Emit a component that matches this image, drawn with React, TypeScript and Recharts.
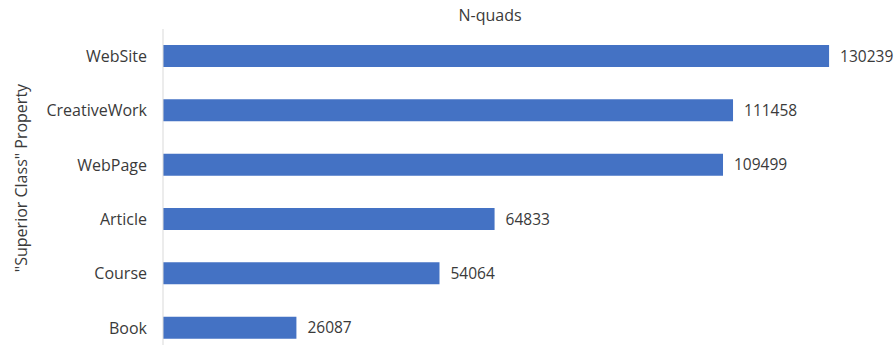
import React from 'react';
import { BarChart, Bar, XAxis, YAxis, LabelList } from 'recharts';

const categories = ['WebSite', 'CreativeWork', 'WebPage', 'Article', 'Course', 'Book'];
const counts = [130239, 111458, 109499, 64833, 54064, 26087];

const data = categories.map((name, i) => ({ name, count: counts[i] }));

const TEXT = '#3a3a3a';
const FONT = '"Open Sans", sans-serif';

export default function App(): React.ReactElement {
  return (
    <div
      style={{
        position: 'fixed',
        left: 0,
        top: 0,
        width: 895,
        height: 345,
        overflow: 'hidden',
        background: '#fff',
        fontFamily: FONT,
      }}
    >
      <div
        style={{
          position: 'absolute',
          left: 390,
          width: 200,
          top: 4,
          textAlign: 'center',
          fontSize: 16,
          color: TEXT,
        }}
      >
        N-quads
      </div>
      <div
        style={{
          position: 'absolute',
          left: 21,
          top: 178,
          transform: 'translate(-50%, -50%) rotate(-90deg)',
          whiteSpace: 'nowrap',
          fontSize: 16,
          color: TEXT,
        }}
      >
        "Superior Class" Property
      </div>
      <BarChart
        width={895}
        height={362}
        data={data}
        layout="vertical"
        margin={{ top: 29, right: 16, left: 0, bottom: 7 }}
        barSize={22}
      >
        <XAxis type="number" domain={[0, 140000]} hide />
        <YAxis
          type="category"
          dataKey="name"
          width={163}
          tickLine={false}
          axisLine={{ stroke: '#d9d9d9' }}
          tickMargin={10}
          tick={{ fill: TEXT, fontSize: 16, fontFamily: FONT }}
        />
        <Bar dataKey="count" fill="#4472C4" isAnimationActive={false}>
          <LabelList
            dataKey="count"
            position="right"
            offset={11}
            style={{ fill: TEXT, fontSize: 15.5, fontFamily: FONT }}
          />
        </Bar>
      </BarChart>
    </div>
  );
}
